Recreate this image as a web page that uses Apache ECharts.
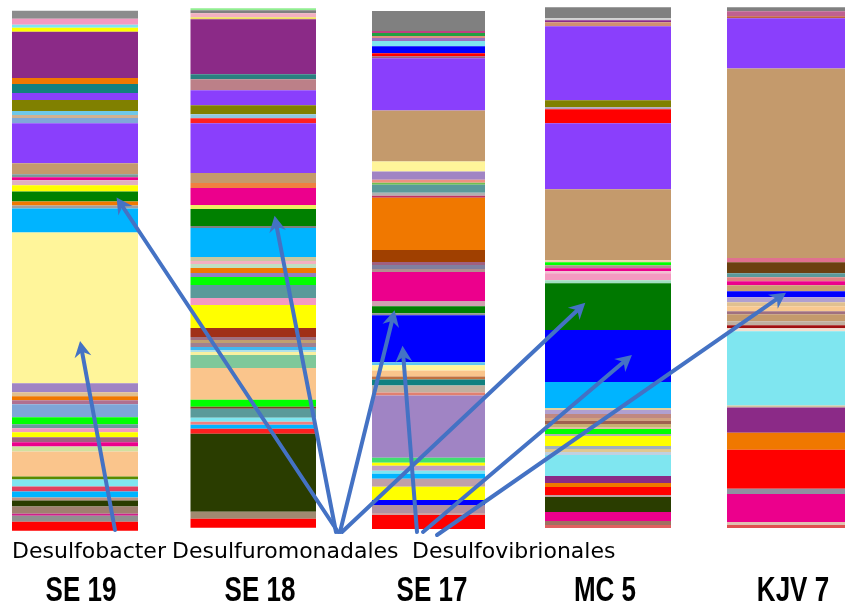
<!DOCTYPE html>
<html>
<head>
<meta charset="utf-8">
<script src="https://cdn.jsdelivr.net/npm/echarts@6/dist/echarts.min.js"></script>
<style>
  html, body { margin: 0; padding: 0; background: #ffffff; }
  #chart { width: 845px; height: 609px; }
</style>
</head>
<body>
<div id="chart"></div>
<script>
// Sample names (one stacked column each)
const samples = ['SE 19', 'SE 18', 'SE 17', 'MC 5', 'KJV 7'];

// Relative abundance of each taxon, listed from the top of the column down
const se19Values = [8, 6, 3, 4, 46, 6, 9, 7, 11, 4, 3, 5, 40, 11, 3, 3, 5, 6, 10, 4, 3, 24,
  150, 9, 4, 4, 4, 13, 7, 4, 4, 5, 5, 4, 5, 25, 3, 7, 5, 6, 3, 6, 7, 2, 6, 9];
const se18Values = [2, 3, 4, 2, 55, 5, 11, 15, 9, 4, 5, 50, 10, 5, 17, 4, 17, 2, 29, 4, 3, 4,
  5, 4, 8, 13, 7, 23, 9, 3, 3, 4, 3, 2, 3, 13, 32, 7, 2, 9, 4, 3, 4, 5, 78, 7, 9];
const se17Values = [20, 2, 3, 2, 3, 5, 7, 3, 2, 52, 51, 10, 8, 3, 2, 8, 3, 2, 52, 12, 3, 4, 3,
  29, 5, 7, 2, 47, 3, 5, 6, 3, 6, 7, 3, 62, 5, 3, 5, 3, 5, 8, 13, 5, 8, 2, 14];
const mc5Values = [11, 2, 2, 4, 74, 7, 2, 14, 66, 71, 2, 3, 3, 3, 2, 7, 3, 47, 52, 26, 2, 4,
  4, 3, 3, 3, 2, 5, 2, 10, 3, 3, 3, 21, 7, 4, 8, 2, 15, 9, 4, 3];
const kjv7Values = [4, 5, 2, 50, 189, 4, 11, 4, 4, 4, 6, 6, 5, 4, 5, 3, 7, 4, 3, 3, 74, 2, 25,
  17, 39, 5, 28, 3, 3];

// Taxon colours, in the same order as the values above
const se19Colors = ['#8c8c8c', '#f49ac1', '#7fe6f0', '#ffff00', '#8b2a87', '#f07800', '#128080',
  '#8a3ffc', '#808000', '#6fc8e8', '#d0b090', '#80a8d8', '#8a3ffc', '#c49a6c', '#7a9a9a', '#ec008c',
  '#e0b0c0', '#ffff00', '#008000', '#f07800', '#a0a0a0', '#00b4ff', '#fff59a', '#a084c4', '#e0c090',
  '#f07800', '#b07090', '#7ea6d8', '#00ff00', '#6a9a9a', '#f49ac1', '#ffff00', '#a06080', '#ec008c',
  '#d0e0a0', '#fac58c', '#5a8a00', '#7fe6f0', '#e04060', '#00b4ff', '#c09080', '#2a3d00', '#a08070',
  '#d0208c', '#909090', '#ff0000'];
const se18Colors = ['#90ee90', '#808080', '#f4b0c0', '#f0e060', '#8b2a87', '#2a8080', '#bc8088',
  '#8a3ffc', '#808000', '#90c8e0', '#ff2020', '#8a3ffc', '#c49a6c', '#f08040', '#ec008c', '#f0f060',
  '#008000', '#808080', '#00b4ff', '#c8c8a0', '#f4b0c0', '#c0e0c0', '#f07800', '#9080c0', '#00ff00',
  '#5a9a9a', '#f49ac1', '#ffff00', '#a03018', '#a07080', '#c0a070', '#a08090', '#40b8f0', '#b0e0e8',
  '#f8f0a0', '#7fc89a', '#fac58c', '#00ff00', '#804020', '#5a9a9a', '#7fe6f0', '#f08080', '#00b4ff',
  '#ff2020', '#2a3d00', '#a08a70', '#ff0000'];
const se17Colors = ['#808080', '#c04080', '#20a040', '#e09080', '#9a70c0', '#7fe6f0', '#0000ff',
  '#ff0000', '#a06080', '#8a3ffc', '#c49a6c', '#fff59a', '#a084c4', '#f09080', '#70c050', '#5a9a9a',
  '#b0b0b0', '#c03060', '#f07800', '#a04000', '#a06080', '#8080a0', '#b09090', '#ec008c', '#d0a0b0',
  '#008000', '#909090', '#0000ff', '#60c8f0', '#fff59a', '#fac58c', '#c07040', '#108080', '#c0b0a0',
  '#e08070', '#a084c4', '#40e070', '#ffff00', '#c0a0c0', '#7fe6f0', '#00b4ff', '#c0a0a8', '#ffff00',
  '#0000ff', '#b090a0', '#d0a0a0', '#ff0000'];
const mc5Colors = ['#808080', '#d0d0d0', '#8b2a87', '#d09070', '#8a3ffc', '#808000', '#b0a0c0',
  '#ff0000', '#8a3ffc', '#c49a6c', '#f0d0b0', '#00ff00', '#b09090', '#ec008c', '#f0c0d0', '#f49ac1',
  '#a0e0c0', '#007800', '#0000ff', '#00b4ff', '#e0d0a0', '#b0a0d0', '#c08880', '#d0a080', '#a06050',
  '#c8b070', '#e0c0a0', '#00ff00', '#b0b0b0', '#ffff00', '#a0b0c0', '#e0c890', '#c0d0e0', '#7fe6f0',
  '#8b2a87', '#f07800', '#ff0000', '#c0a0a0', '#2a3d00', '#ec008c', '#a07060', '#e06060'];
const kjv7Colors = ['#808080', '#c06090', '#c06040', '#8a3ffc', '#c49a6c', '#e07090', '#6b4010',
  '#5a9a9a', '#e08080', '#ec008c', '#c8a070', '#0000ff', '#b0a0d0', '#e0c090', '#f8c890', '#a07080',
  '#c49a6c', '#c0b0a0', '#a01010', '#f0e0d0', '#7fe6f0', '#d0c0a0', '#8b2a87', '#f07800', '#ff0000',
  '#9090a0', '#ec008c', '#e0c0b0', '#e05050'];

// Annotated groups and the segment each arrow points at
const groupNames = ['Desulfobacter', 'Desulfuromonadales', 'Desulfovibrionales'];
const arrowTargets = [
  { group: 0, sample: 0, segment: 22 },
  { group: 1, sample: 0, segment: 18 },
  { group: 1, sample: 1, segment: 16 },
  { group: 1, sample: 2, segment: 25 },
  { group: 1, sample: 3, segment: 17 },
  { group: 2, sample: 2, segment: 27 },
  { group: 2, sample: 3, segment: 18 },
  { group: 2, sample: 4, segment: 11 }
];

const allValues = [se19Values, se18Values, se17Values, mc5Values, kjv7Values];
const allColors = [se19Colors, se18Colors, se17Colors, mc5Colors, kjv7Colors];

// ---- layout (pixels) ----
const columnBoxes = [
  { left: 12, width: 126, top: 10.7, bottom: 530.7 },
  { left: 190.5, width: 125.5, top: 8.3, bottom: 527.7 },
  { left: 372, width: 113, top: 11, bottom: 529 },
  { left: 545, width: 126, top: 7.3, bottom: 528 },
  { left: 727, width: 126, top: 7.3, bottom: 528 }
];
const sampleLabelX = [81, 260, 432, 605, 793];
const sampleLabelY = 591;
const groupLabelX = [12, 172, 412];
const groupLabelY = 552;
// where each arrow starts, and where inside the segment its tip lands
const arrowTails = [[115, 530], [338, 532], [336, 532], [340, 532], [342, 532], [417, 532], [423, 532], [437, 535]];
const arrowTips = [[0.54, 0.72], [0.83, 0.6], [0.67, 0.4], [0.2, 0.6], [0.32, 0.42], [0.27, 0.65], [0.69, 0.48], [0.5, 0.25]];
const ARROW_BLUE = '#4472c4';

const chart = echarts.init(document.getElementById('chart'), null, { renderer: 'canvas' });

const grids = [], xAxes = [], yAxes = [], series = [];
samples.forEach((name, i) => {
  const box = columnBoxes[i];
  const total = allValues[i].reduce((a, b) => a + b, 0);
  grids.push({ left: box.left, width: box.width, top: box.top, height: box.bottom - box.top });
  xAxes.push({ gridIndex: i, type: 'category', data: [name], show: false });
  yAxes.push({ gridIndex: i, type: 'value', min: 0, max: total, inverse: true, show: false });
  allValues[i].forEach((v, j) => {
    series.push({
      type: 'bar',
      xAxisIndex: i,
      yAxisIndex: i,
      stack: 'col' + i,
      barWidth: '100%',
      barCategoryGap: '0%',
      data: [v],
      silent: true,
      itemStyle: { color: allColors[i][j] }
    });
  });
});

chart.setOption({
  animation: false,
  backgroundColor: '#ffffff',
  grid: grids,
  xAxis: xAxes,
  yAxis: yAxes,
  series: series
});

// ---- annotations: group labels, sample labels, arrows ----
function arrow(x0, y0, x1, y1) {
  const dx = x1 - x0, dy = y1 - y0, len = Math.hypot(dx, dy);
  const ux = dx / len, uy = dy / len, px = -uy, py = ux;
  const L = 16, W = 8.5;
  const bx = x1 - ux * L, by = y1 - uy * L;
  const nx = x1 - ux * L * 0.68, ny = y1 - uy * L * 0.68;
  return [
    { type: 'line', z: 100, shape: { x1: x0, y1: y0, x2: nx, y2: ny },
      style: { stroke: ARROW_BLUE, lineWidth: 4, lineCap: 'round' } },
    { type: 'polygon', z: 101,
      shape: { points: [[x1, y1], [bx + px * W, by + py * W], [nx, ny], [bx - px * W, by - py * W]] },
      style: { fill: ARROW_BLUE } }
  ];
}

const elements = [];
groupNames.forEach((t, k) => {
  elements.push({
    type: 'text', z: 110, x: groupLabelX[k], y: groupLabelY,
    style: { text: t, fill: '#000000', font: '22px "DejaVu Sans"', align: 'left', verticalAlign: 'middle' }
  });
});
samples.forEach((t, i) => {
  elements.push({
    type: 'text', z: 110, x: sampleLabelX[i], y: sampleLabelY, scaleY: 1.35,
    style: { text: t, fill: '#000000', font: 'bold 26px "Liberation Sans"', align: 'center', verticalAlign: 'middle' }
  });
});
arrowTargets.forEach((a, k) => {
  const vals = allValues[a.sample];
  let before = 0;
  for (let j = 0; j < a.segment; j++) before += vals[j];
  const box = columnBoxes[a.sample];
  const cx = chart.convertToPixel({ xAxisIndex: a.sample }, samples[a.sample]);
  const tipX = cx + (arrowTips[k][0] - 0.5) * box.width;
  const tipY = chart.convertToPixel({ yAxisIndex: a.sample }, before + vals[a.segment] * arrowTips[k][1]);
  elements.push(...arrow(arrowTails[k][0], arrowTails[k][1], tipX, tipY));
});

chart.setOption({ graphic: { elements: elements } });
</script>
</body>
</html>
